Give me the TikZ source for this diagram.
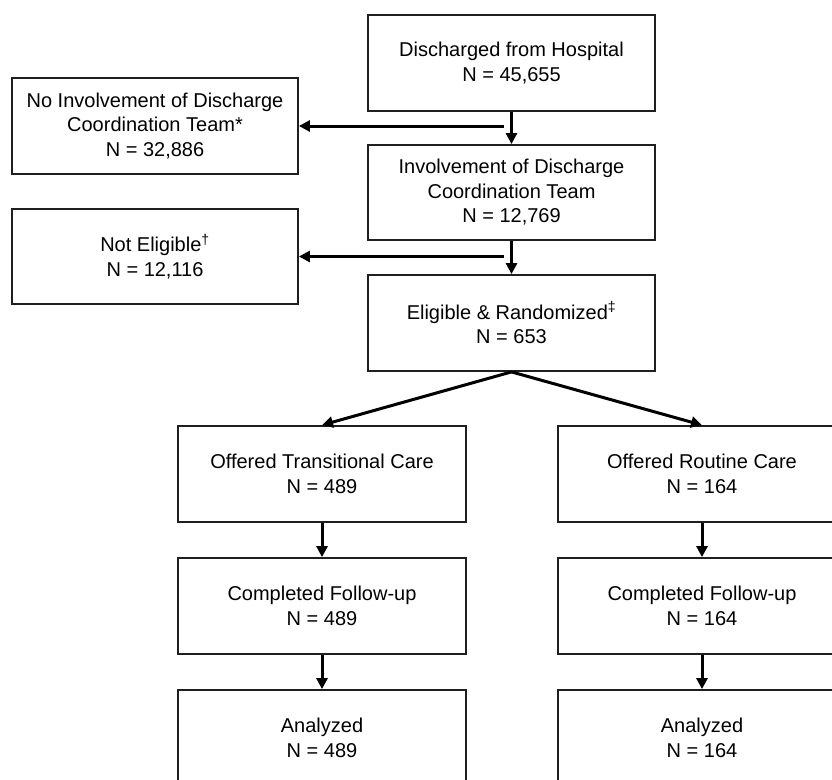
\documentclass[tikz,border=0pt]{standalone}
\usepackage{fontspec}
\setmainfont{Liberation Sans}
\usetikzlibrary{arrows.meta}
\begin{document}
\begin{tikzpicture}[x=1bp,y=-1bp,
  box/.style={draw=black!88,line width=1.8bp,rectangle,align=center,inner sep=0pt,
    minimum width=287bp,minimum height=96bp,font=\fontsize{20bp}{24.5bp}\selectfont},
  arr/.style={line width=3bp,-{Triangle[length=11bp,width=11bp]}}]
\useasboundingbox (0,0) rectangle (832,780);
\clip (0,0) rectangle (832,780);
\fill[white] (0,0) rectangle (832,780);
\node[box] (dis) at (511.5,63) {Discharged from Hospital\\N = 45,655};
\node[box,minimum height=95bp] (inv) at (511.5,192.5) {Involvement of Discharge\\Coordination Team\\N = 12,769};
\node[box] (eli) at (511.5,323) {Eligible \& Randomized\textsuperscript{‡}\\N = 653};
\node[box,minimum width=286bp] (noinv) at (155,126) {No Involvement of Discharge\\Coordination Team*\\N = 32,886};
\node[box,minimum width=286bp,minimum height=95bp] (note) at (155,256.5) {Not Eligible\textsuperscript{†}\\N = 12,116};
\node[box,minimum width=288bp] (otc) at (322,474) {Offered Transitional Care\\N = 489};
\node[box,minimum width=288bp] (orc) at (702,474) {Offered Routine Care\\N = 164};
\node[box,minimum width=288bp] (cf1) at (322,606) {Completed Follow-up\\N = 489};
\node[box,minimum width=288bp] (cf2) at (702,606) {Completed Follow-up\\N = 164};
\node[box,minimum width=288bp] (an1) at (322,738) {Analyzed\\N = 489};
\node[box,minimum width=288bp] (an2) at (702,738) {Analyzed\\N = 164};
\coordinate (h1) at (504,126);
\coordinate (h2) at (504,256.5);
\draw[arr] (dis) -- (inv);
\draw[arr] (inv) -- (eli);
\draw[arr] (h1) -- (noinv.east);
\draw[arr] (h2) -- (note.east);
\draw[arr] (eli.south) -- (otc.north);
\draw[arr] (eli.south) -- (orc.north);
\draw[arr] (otc) -- (cf1);
\draw[arr] (cf1) -- (an1);
\draw[arr] (orc) -- (cf2);
\draw[arr] (cf2) -- (an2);
\end{tikzpicture}
\end{document}
